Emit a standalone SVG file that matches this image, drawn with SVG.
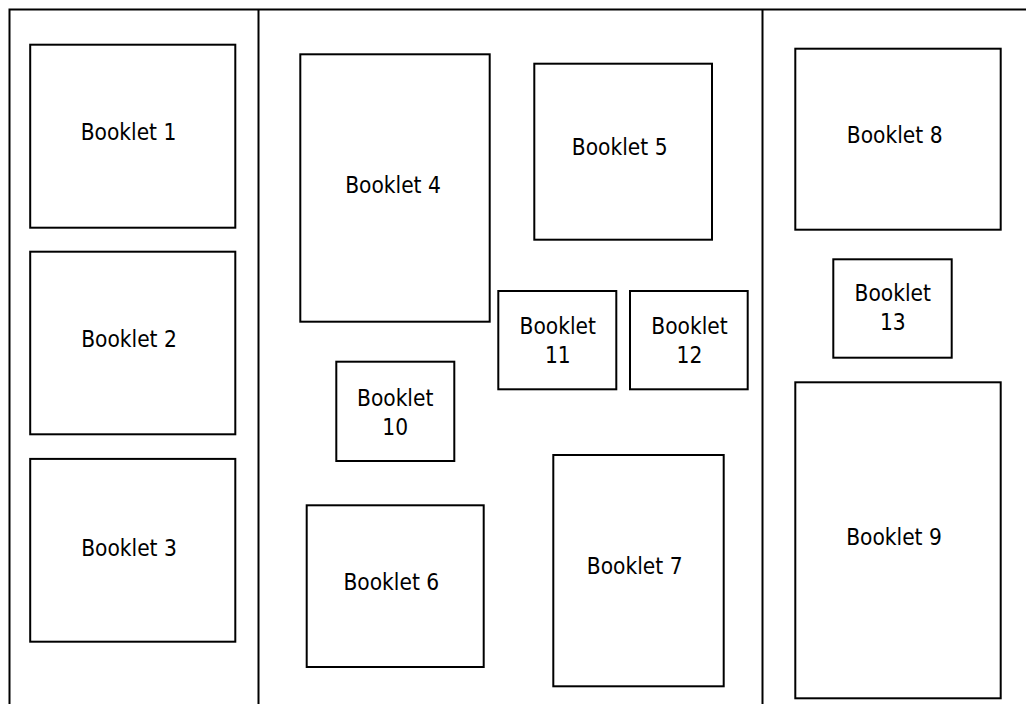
<svg xmlns="http://www.w3.org/2000/svg" width="1026" height="704" viewBox="0 0 1026 704">
<style>
rect.b{fill:#fff;stroke:#000;stroke-width:2}
.f{fill:none;stroke:#000;stroke-width:2}
text{font-family:"DejaVu Sans Condensed","DejaVu Sans",sans-serif;font-stretch:condensed;font-size:22.5px;fill:#000;text-anchor:middle}
</style>
<rect width="1026" height="704" fill="#fff"/>
<g id="frame">
<rect class="f" x="9.5" y="9.5" width="1040" height="720"/>
<line class="f" x1="258.5" y1="9.5" x2="258.5" y2="720"/>
<line class="f" x1="762.5" y1="9.5" x2="762.5" y2="720"/>
</g>
<g id="connectors"></g>
<g id="booklet1"><rect class="b" x="30.2" y="44.7" width="205.1" height="183"/><text x="128.5" y="139.5">Booklet 1</text></g>
<g id="booklet2"><rect class="b" x="30.2" y="251.7" width="205.1" height="182.6"/><text x="129" y="346.7">Booklet 2</text></g>
<g id="booklet3"><rect class="b" x="30.2" y="458.9" width="205.1" height="182.8"/><text x="129" y="555.5">Booklet 3</text></g>
<g id="booklet4"><rect class="b" x="300.3" y="54.3" width="189.4" height="267.4"/><text x="393" y="192.5">Booklet 4</text></g>
<g id="booklet5"><rect class="b" x="534.3" y="63.7" width="177.7" height="176"/><text x="619.7" y="155">Booklet 5</text></g>
<g id="booklet6"><rect class="b" x="306.7" y="505.3" width="177" height="161.7"/><text x="391.3" y="589.7">Booklet 6</text></g>
<g id="booklet7"><rect class="b" x="553.3" y="455" width="170.4" height="231.3"/><text x="634.7" y="573.7">Booklet 7</text></g>
<g id="booklet8"><rect class="b" x="795.3" y="48.7" width="205.4" height="181"/><text x="894.7" y="143.3">Booklet 8</text></g>
<g id="booklet9"><rect class="b" x="795.3" y="382.3" width="205.4" height="316"/><text x="894" y="544.5">Booklet 9</text></g>
<g id="booklet10"><rect class="b" x="336.3" y="361.7" width="118" height="99.3"/><text x="395.2" y="405.7">Booklet</text><text x="395.2" y="434.7">10</text></g>
<g id="booklet11"><rect class="b" x="498.3" y="291" width="118" height="98.3"/><text x="557.8" y="334">Booklet</text><text x="557.8" y="363.3">11</text></g>
<g id="booklet12"><rect class="b" x="630" y="291" width="117.7" height="98.3"/><text x="689.5" y="334">Booklet</text><text x="689.5" y="363.3">12</text></g>
<g id="booklet13"><rect class="b" x="833.3" y="259.3" width="118.4" height="98.4"/><text x="892.8" y="300.7">Booklet</text><text x="892.8" y="330">13</text></g>
</svg>
